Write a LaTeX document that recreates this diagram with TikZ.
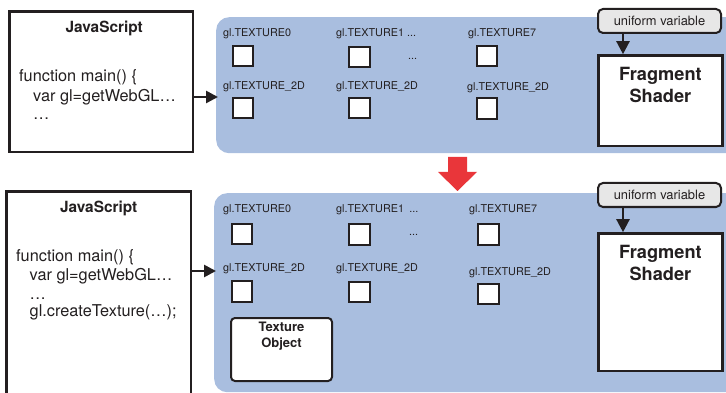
\documentclass[tikz,border=0pt]{standalone}
\usepackage{fontspec}
\setmainfont{TeX Gyre Heros}
\usepackage{tikz}
\usetikzlibrary{positioning}
\usetikzlibrary{arrows.meta}

\definecolor{panelblue}{RGB}{169,190,223}
\definecolor{ink}{RGB}{35,31,32}
\definecolor{uniformgray}{RGB}{231,231,231}
\definecolor{bigred}{RGB}{233,54,58}

\tikzset{
    jsbox/.style={draw=ink, line width=2.4pt, fill=white, anchor=north west, inner sep=0pt},
    panel/.style={fill=panelblue, rounded corners=13pt, anchor=north west, inner sep=0pt, minimum width=530pt},
    unitlabel/.style={anchor=base west, inner sep=0pt, text=ink, font=\fontsize{10.8}{12}\selectfont},
    unitbox/.style={draw=ink, line width=2.2pt, fill=white, minimum size=20.6pt, inner sep=0pt},
    codeline/.style={anchor=base west, inner sep=0pt, text=ink, font=\fontsize{16.3}{19}\selectfont},
    boxtitle/.style={inner sep=0pt, text=ink, font=\bfseries\fontsize{15.4}{18}\selectfont},
    uniform/.style={draw=ink, line width=2pt, fill=uniformgray, rounded corners=5pt, anchor=north west, inner sep=0pt,
        minimum width=123pt, minimum height=24pt, text=ink, font=\fontsize{12.9}{15}\selectfont},
    shader/.style={draw=ink, line width=2.4pt, fill=white, anchor=north west, inner sep=0pt, minimum width=124pt},
    shadertitle/.style={inner sep=0pt, align=center, text=ink, font=\bfseries\fontsize{18.2}{22}\selectfont},
    texobj/.style={draw=ink, line width=2pt, fill=white, rounded corners=4pt, anchor=north west, inner sep=0pt,
        minimum width=101pt, minimum height=63pt},
    texobjtitle/.style={inner sep=0pt, align=center, text=ink, font=\bfseries\fontsize{13}{16.3}\selectfont},
    flow/.style={draw=ink, line width=2.6pt, -{Triangle[length=12pt,width=12pt]}, shorten >=-2pt},
    uniflow/.style={draw=ink, line width=2.4pt, -{Triangle[length=13pt,width=13pt]}},
}

\begin{document}
\begin{tikzpicture}[x=1pt, y=-1pt]
    \useasboundingbox (0,0) rectangle (726,393);
    \clip (0,0) rectangle (726,393);

    % before the texture object exists
    \node[panel, minimum height=136pt] (panel1) at (216,17) {};
    \node[jsbox, minimum width=183.6pt, minimum height=140.6pt] (js1) at (8.2,10.2) {};
    \node[boxtitle, below=11pt of js1.north, xshift=3pt] (js1title) {JavaScript};
    \node[codeline] (js1code1) at (19,81.7) {function main() \{};
    \node[codeline] (js1code2) at (33,101.7) {var gl=getWebGL…};
    \node[codeline] (js1code3) at (33,119.5) {…};

    \node[unitlabel] (t1unit0) at (223,36.7) {gl.TEXTURE0};
    \node[unitlabel] (t1unit1) at (336,36.7) {gl.TEXTURE1 ...};
    \node[unitlabel] (t1unit7) at (468,36.7) {gl.TEXTURE7};
    \node[unitlabel] (t1dots) at (408,59.5) {...};
    \node[unitlabel] (t1tex0) at (223,89.7) {gl.TEXTURE\_2D};
    \node[unitlabel] (t1tex1) at (336,89.7) {gl.TEXTURE\_2D};
    \node[unitlabel] (t1tex7) at (467,90.5) {gl.TEXTURE\_2D};

    \node[unitbox] (b1unit0) at (243,56) {};
    \node[unitbox] (b1unit1) at (359.5,57) {};
    \node[unitbox] (b1unit7) at (487,56) {};
    \node[unitbox] (b1tex0) at (243,108) {};
    \node[unitbox] (b1tex1) at (359.5,108) {};
    \node[unitbox] (b1tex7) at (487,108.5) {};

    \node[uniform] (uni1) at (597,8) {uniform variable};
    \node[shader, minimum height=90.6pt] (shader1) at (597.2,54.2) {};
    \node[shadertitle, below=12.5pt of shader1.north] (shader1title) {Fragment\\Shader};

    \coordinate (in1) at (0,97);
    \draw[flow] (js1.east |- in1) -- (panel1.west |- in1);
    \draw[uniflow] ([xshift=-36.5pt]uni1.south) -- ([xshift=-36.5pt]uni1.south |- shader1.north);

    % step arrow
    \fill[bigred] (448,157) -- (467,157) -- (467,172) -- (477,172) -- (457.5,191) -- (438,172) -- (448,172) -- cycle;

    % after gl.createTexture()
    \node[panel, minimum height=199pt] (panel2) at (214,193) {};
    \node[jsbox, minimum width=184.6pt, minimum height=250pt] (js2) at (5.2,190.2) {};
    \node[boxtitle, below=10.5pt of js2.north] (js2title) {JavaScript};
    \node[codeline] (js2code1) at (16,261) {function main() \{};
    \node[codeline] (js2code2) at (29.5,280) {var gl=getWebGL…};
    \node[codeline] (js2code3) at (29.5,299) {…};
    \node[codeline] (js2code4) at (29.5,316) {gl.createTexture(…);};

    \node[unitlabel] (t2unit0) at (223,212.7) {gl.TEXTURE0};
    \node[unitlabel] (t2unit1) at (336,212.7) {gl.TEXTURE1\enspace ...};
    \node[unitlabel] (t2unit7) at (469,212.7) {gl.TEXTURE7};
    \node[unitlabel] (t2dots) at (409,236) {...};
    \node[unitlabel] (t2tex0) at (223,271.7) {gl.TEXTURE\_2D};
    \node[unitlabel] (t2tex1) at (336,271.7) {gl.TEXTURE\_2D};
    \node[unitlabel] (t2tex7) at (469,275) {gl.TEXTURE\_2D};

    \node[unitbox] (b2unit0) at (242,234) {};
    \node[unitbox] (b2unit1) at (359.5,234.5) {};
    \node[unitbox] (b2unit7) at (488.5,234.5) {};
    \node[unitbox] (b2tex0) at (242,291.5) {};
    \node[unitbox] (b2tex1) at (359.5,292) {};
    \node[unitbox] (b2tex7) at (488.5,294) {};

    \node[texobj] (texobj) at (230,317) {};
    \node[texobjtitle, below=5pt of texobj.north] (texobjtitle) {Texture\\Object};

    \node[uniform] (uni2) at (597,182) {uniform variable};
    \node[shader, minimum height=137.6pt] (shader2) at (597.2,232.2) {};
    \node[shadertitle, below=12.5pt of shader2.north] (shader2title) {Fragment\\Shader};

    \coordinate (in2) at (0,271);
    \draw[flow] (js2.east |- in2) -- (panel2.west |- in2);
    \draw[uniflow] ([xshift=-36.5pt]uni2.south) -- ([xshift=-36.5pt]uni2.south |- shader2.north);
\end{tikzpicture}
\end{document}
